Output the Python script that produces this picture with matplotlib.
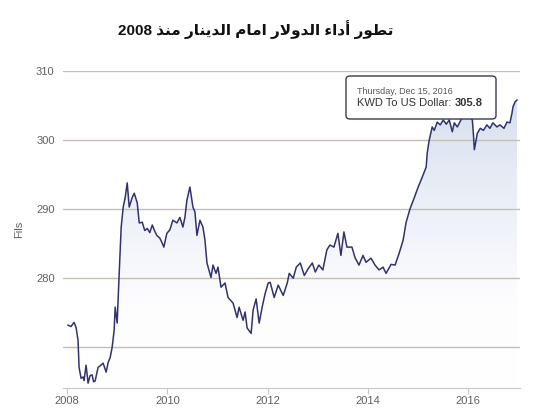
import numpy as np
import matplotlib.pyplot as plt
from matplotlib.colors import LinearSegmentedColormap
from matplotlib.patches import FancyBboxPatch
from matplotlib.text import Annotation

title_text = 'تطور أداء الدولار امام الدينار منذ 2008'
y_label = 'Fils'
tip_date = 'Thursday, Dec 15, 2016'
tip_name = 'KWD To US Dollar: '
tip_value = '305.8'

year_ticks = [2008, 2010, 2012, 2014, 2016]
fils_ticks = [270, 280, 290, 300, 310]
fils_tick_labels = ['', '280', '290', '300', '310']

# (decimal year, fils per dollar)
years = [2008.02, 2008.08, 2008.14, 2008.18, 2008.22, 2008.24, 2008.28, 2008.32, 2008.34, 2008.38,
         2008.42, 2008.46, 2008.50, 2008.53, 2008.56, 2008.62, 2008.66, 2008.72, 2008.78, 2008.82,
         2008.86, 2008.90, 2008.94, 2008.96, 2009.00, 2009.04, 2009.08, 2009.12, 2009.16, 2009.20,
         2009.24, 2009.30, 2009.34, 2009.40, 2009.44, 2009.50, 2009.55, 2009.60, 2009.65, 2009.70,
         2009.75, 2009.79, 2009.85, 2009.89, 2009.93, 2009.99, 2010.05, 2010.11, 2010.19, 2010.25,
         2010.31, 2010.35, 2010.39, 2010.45, 2010.51, 2010.55, 2010.59, 2010.65, 2010.71, 2010.75,
         2010.79, 2010.87, 2010.91, 2010.97, 2011.01, 2011.07, 2011.15, 2011.21, 2011.31, 2011.39,
         2011.43, 2011.51, 2011.55, 2011.59, 2011.67, 2011.71, 2011.77, 2011.83, 2011.89, 2011.95,
         2012.01, 2012.05, 2012.13, 2012.21, 2012.31, 2012.39, 2012.43, 2012.51, 2012.57, 2012.65,
         2012.73, 2012.81, 2012.89, 2012.95, 2013.02, 2013.10, 2013.18, 2013.24, 2013.32, 2013.40,
         2013.46, 2013.52, 2013.58, 2013.68, 2013.74, 2013.82, 2013.90, 2013.96, 2014.06, 2014.14,
         2014.22, 2014.30, 2014.36, 2014.46, 2014.54, 2014.62, 2014.70, 2014.76, 2014.84, 2014.92,
         2015.00, 2015.08, 2015.16, 2015.18, 2015.22, 2015.28, 2015.32, 2015.38, 2015.44, 2015.50,
         2015.56, 2015.62, 2015.68, 2015.72, 2015.78, 2015.88, 2015.94, 2016.00, 2016.08, 2016.10,
         2016.12, 2016.18, 2016.24, 2016.30, 2016.37, 2016.43, 2016.49, 2016.57, 2016.63, 2016.71,
         2016.77, 2016.83, 2016.87, 2016.89, 2016.93, 2016.97]
fils = [273.2, 273.0, 273.6, 272.9, 271.0, 267.1, 265.5, 265.7, 265.2, 267.4,
        264.8, 265.9, 266.0, 265.0, 265.1, 267.1, 267.3, 267.7, 266.4, 267.8,
        268.5, 270.0, 272.5, 275.8, 273.5, 280.7, 287.4, 290.3, 291.7, 293.8,
        290.3, 291.7, 292.3, 290.9, 288.0, 288.1, 286.9, 287.2, 286.6, 287.7,
        286.8, 286.2, 285.8, 285.2, 284.5, 286.5, 287.0, 288.4, 288.0, 288.8,
        287.4, 288.8, 291.3, 293.2, 290.3, 289.6, 286.2, 288.4, 287.4, 285.5,
        282.2, 280.1, 281.9, 280.7, 281.6, 278.7, 279.3, 277.2, 276.4, 274.3,
        275.8, 273.9, 275.1, 272.8, 272.0, 275.4, 277.0, 273.5, 275.8, 277.8,
        279.3, 279.4, 277.2, 279.0, 277.5, 279.3, 280.7, 280.0, 281.6, 282.2,
        280.4, 281.4, 282.2, 280.9, 281.9, 281.2, 284.1, 284.8, 284.5, 286.5,
        283.3, 286.7, 284.5, 284.5, 283.0, 281.9, 283.3, 282.3, 282.9, 281.9,
        281.2, 281.6, 280.7, 282.0, 281.9, 283.6, 285.5, 288.1, 290.1, 291.6,
        293.2, 294.6, 296.1, 298.1, 300.0, 301.9, 301.4, 302.6, 302.2, 302.9,
        302.3, 302.9, 301.2, 302.5, 301.9, 303.3, 304.1, 303.9, 302.9, 301.0,
        298.6, 301.0, 301.7, 301.4, 302.2, 301.7, 302.5, 301.9, 302.2, 301.7,
        302.6, 302.5, 303.9, 304.8, 305.5, 305.8]

# matplotlib does no arabic shaping, so pick presentation forms by hand
# (isolated, final, initial, medial)
FORMS = {
    'ا': ('\uFE8D', '\uFE8E'),
    'أ': ('\uFE83', '\uFE84'),
    'د': ('\uFEA9', '\uFEAA'),
    'ذ': ('\uFEAB', '\uFEAC'),
    'ر': ('\uFEAD', '\uFEAE'),
    'و': ('\uFEED', '\uFEEE'),
    'ء': ('\uFE80',),
    'ت': ('\uFE95', '\uFE96', '\uFE97', '\uFE98'),
    'ط': ('\uFEC1', '\uFEC2', '\uFEC3', '\uFEC4'),
    'ل': ('\uFEDD', '\uFEDE', '\uFEDF', '\uFEE0'),
    'م': ('\uFEE1', '\uFEE2', '\uFEE3', '\uFEE4'),
    'ن': ('\uFEE5', '\uFEE6', '\uFEE7', '\uFEE8'),
    'ي': ('\uFEF1', '\uFEF2', '\uFEF3', '\uFEF4'),
}
LAM_ALEF = {'ا': ('\uFEFB', '\uFEFC'), 'أ': ('\uFEF7', '\uFEF8')}


def shape_word(word):
    units = []
    i = 0
    while i < len(word):
        c = word[i]
        if c == 'ل' and i + 1 < len(word) and word[i + 1] in LAM_ALEF:
            units.append(LAM_ALEF[word[i + 1]])
            i += 2
        else:
            units.append(FORMS.get(c, (c,)))
            i += 1
    out = ''
    for k, f in enumerate(units):
        pc = k > 0 and len(units[k - 1]) == 4 and len(f) > 1
        nc = k + 1 < len(units) and len(f) == 4 and len(units[k + 1]) > 1
        if pc and nc:
            out += f[3]
        elif pc:
            out += f[1]
        elif nc:
            out += f[2]
        else:
            out += f[0]
    return out


def rtl(text):
    words = text.split(' ')
    return ' '.join(w if w.isdigit() else shape_word(w)[::-1] for w in reversed(words))


plt.rcParams['font.family'] = ['Liberation Sans', 'DejaVu Sans']

fig = plt.figure(figsize=(5.33, 4.18), dpi=100)
ax = fig.add_axes([63 / 533, 1 - 388 / 418, 457 / 533, 317 / 418])

ymin, ymax = 264.1, 310
xmin, xmax = 2007.92, 2017.03

# gradient area under the line, fades out well above the bottom
area = ax.fill_between(years, fils, ymin, color='none', lw=0)
cmap = LinearSegmentedColormap.from_list(
    'fade', [(0, '#ffffff'), (0.3, '#fdfdfe'), (0.6, '#eef1f8'), (1, '#d8e0ee')])
grad = np.linspace(0, 1, 256).reshape(-1, 1)
img = ax.imshow(grad, cmap=cmap, origin='lower', aspect='auto',
                extent=[years[0], years[-1], ymin, max(fils)], zorder=1)
img.set_clip_path(area.get_paths()[0], transform=ax.transData)

ax.plot(years, fils, color='#32336c', lw=1.1, zorder=3)

ax.set_xlim(xmin, xmax)
ax.set_ylim(ymin, ymax)
ax.set_axisbelow(False)
ax.grid(axis='y', color='#c4bdb4', lw=1)
ax.grid(axis='x', visible=False)

ax.set_xticks(year_ticks)
ax.set_xticklabels([str(y) for y in year_ticks])
ax.set_yticks(fils_ticks)
ax.set_yticklabels(fils_tick_labels)
ax.tick_params(axis='x', length=4, color='#c6c6c6', labelcolor='#606060', labelsize=8, pad=2)
ax.tick_params(axis='y', length=0, labelcolor='#606060', labelsize=8, pad=6)

for s in ['top', 'right', 'left']:
    ax.spines[s].set_visible(False)
ax.spines['bottom'].set_color('#c6c6c6')

ax.set_ylabel(y_label, color='#606060', fontsize=8)
ax.yaxis.set_label_coords(-39 / 457, 0.5)

fig.text(256 / 533, 1 - 30 / 418, rtl(title_text), ha='center', va='center',
         fontsize=11, fontweight='bold', color='#111111')

# tooltip
box = FancyBboxPatch((346 / 533, 1 - 119 / 418), 150 / 533, 43 / 418,
                     boxstyle='round,pad=0,rounding_size=0.008',
                     transform=fig.transFigure, facecolor='white',
                     edgecolor='#3a3a48', lw=1, zorder=5)
fig.add_artist(box)
fig.text(357 / 533, 1 - 91 / 418, tip_date, ha='left', va='center',
         fontsize=6.5, color='#555555', zorder=6)
t1 = fig.text(357 / 533, 1 - 103.5 / 418, tip_name, ha='left', va='center',
              fontsize=8, color='#333333', zorder=6)
val = Annotation(tip_value, xy=(1, 0), xycoords=t1, ha='left', va='bottom',
                 fontsize=8, fontweight='bold', color='#333333', zorder=6,
                 annotation_clip=False)
fig.add_artist(val)

fig.savefig('out.png', dpi=100)
